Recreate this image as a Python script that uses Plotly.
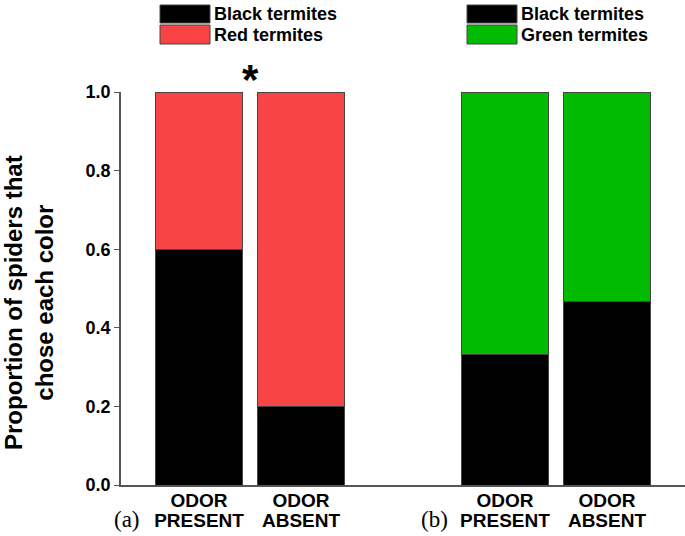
import plotly.graph_objects as go

# Data
positions = [0, 1, 3, 4]
tick_line1 = ["ODOR", "ODOR", "ODOR", "ODOR"]
tick_line2 = ["PRESENT", "ABSENT", "PRESENT", "ABSENT"]
black_a = [0.600, 0.200]
red_a = [0.400, 0.800]
black_b = [0.333, 0.467]
green_b = [0.667, 0.533]
y_ticks = [0, 0.2, 0.4, 0.6, 0.8, 1.0]
y_tick_labels = ["0.0", "0.2", "0.4", "0.6", "0.8", "1.0"]

BLACK = "#000000"
RED = "#F84444"
GREEN = "#00BB00"
EDGE = "#444444"
FONT = "Arial, Liberation Sans, sans-serif"

L, T, B, W, H = 121, 92, 51, 685, 536
PW, PH = W - L, H - T - B
XR = [-0.765, 4.765]


def px(x):
    return (x - L) / PW


def py(y):
    return (H - B - y) / PH


fig = go.Figure()
w = 0.86
fig.add_bar(x=positions[:2], y=black_a, marker=dict(color=BLACK, line=dict(color=EDGE, width=1)), width=w, name="Black termites")
fig.add_bar(x=positions[:2], y=red_a, marker=dict(color=RED, line=dict(color=EDGE, width=1)), width=w, name="Red termites")
fig.add_bar(x=positions[2:], y=black_b, marker=dict(color=BLACK, line=dict(color=EDGE, width=1)), width=w, name="Black termites")
fig.add_bar(x=positions[2:], y=green_b, marker=dict(color=GREEN, line=dict(color=EDGE, width=1)), width=w, name="Green termites")
# Empty helper trace so the overlaid second x axis (first tick-label line) is drawn
fig.add_scatter(x=positions, y=[None] * len(positions), xaxis="x2", yaxis="y",
                mode="markers", showlegend=False, hoverinfo="skip")

tickfont = dict(size=19, family=FONT, weight="bold")
fig.update_layout(
    barmode="stack",
    width=W, height=H,
    margin=dict(l=L, r=0, t=T, b=B, autoexpand=False),
    paper_bgcolor="white", plot_bgcolor="white",
    showlegend=False,
    font=dict(family=FONT, color="black"),
    xaxis=dict(range=XR, tickvals=positions, ticktext=tick_line2,
               showline=True, linecolor="#555555", linewidth=1.5, ticks="", automargin=False,
               tickfont=tickfont, showgrid=False, zeroline=False, ticklabelstandoff=17),
    xaxis2=dict(range=XR, tickvals=positions, ticktext=tick_line1, overlaying="x", anchor="y",
                side="bottom", showline=False, ticks="", automargin=False,
                tickfont=tickfont, showgrid=False, zeroline=False, ticklabelstandoff=2),
    yaxis=dict(range=[0, 1], tickvals=y_ticks, ticktext=y_tick_labels,
               showline=True, linecolor="#555555", linewidth=1.5, ticks="outside", ticklen=5,
               tickcolor="#555555", tickfont=dict(size=18, family=FONT, weight="bold"),
               showgrid=False, zeroline=False, automargin=False),
)

# Y axis title
fig.add_annotation(xref="paper", yref="paper", x=px(29), y=py(302), textangle=-90,
                   text="Proportion of spiders that<br>chose each color", showarrow=False,
                   xanchor="center", yanchor="middle",
                   font=dict(size=24, family=FONT, weight="bold"))

# Legend boxes (drawn manually to match wide swatches)
legend_items = [
    (160, 210, 5, 23, BLACK, "Black termites"),
    (160, 210, 25, 44, RED, "Red termites"),
    (467, 517, 5, 23, BLACK, "Black termites"),
    (467, 517, 25, 44, GREEN, "Green termites"),
]
for x0, x1, y0, y1, col, label in legend_items:
    fig.add_shape(type="rect", xref="paper", yref="paper",
                  x0=px(x0), x1=px(x1), y0=py(y1), y1=py(y0),
                  fillcolor=col, line=dict(color=EDGE, width=1))
    fig.add_annotation(xref="paper", yref="paper", x=px(x1 + 2), y=py((y0 + y1) / 2),
                       text=label, showarrow=False, xanchor="left", yanchor="middle",
                       font=dict(size=18, family=FONT, weight="bold"))

# Significance asterisk
fig.add_annotation(xref="x", yref="paper", x=0.5, y=py(80), text="*", showarrow=False,
                   font=dict(size=42, family=FONT, weight="bold"), yanchor="middle")

# Panel labels
for lab, xp in [("(a)", 127), ("(b)", 434)]:
    fig.add_annotation(xref="paper", yref="paper", x=px(xp), y=py(519), text=lab,
                       showarrow=False, font=dict(size=23, family="Times New Roman, Liberation Serif, serif"),
                       xanchor="center", yanchor="middle")

fig.write_html("out.html", config={"displayModeBar": False},
               post_script="document.body.style.margin='0';document.body.style.overflow='hidden';")
